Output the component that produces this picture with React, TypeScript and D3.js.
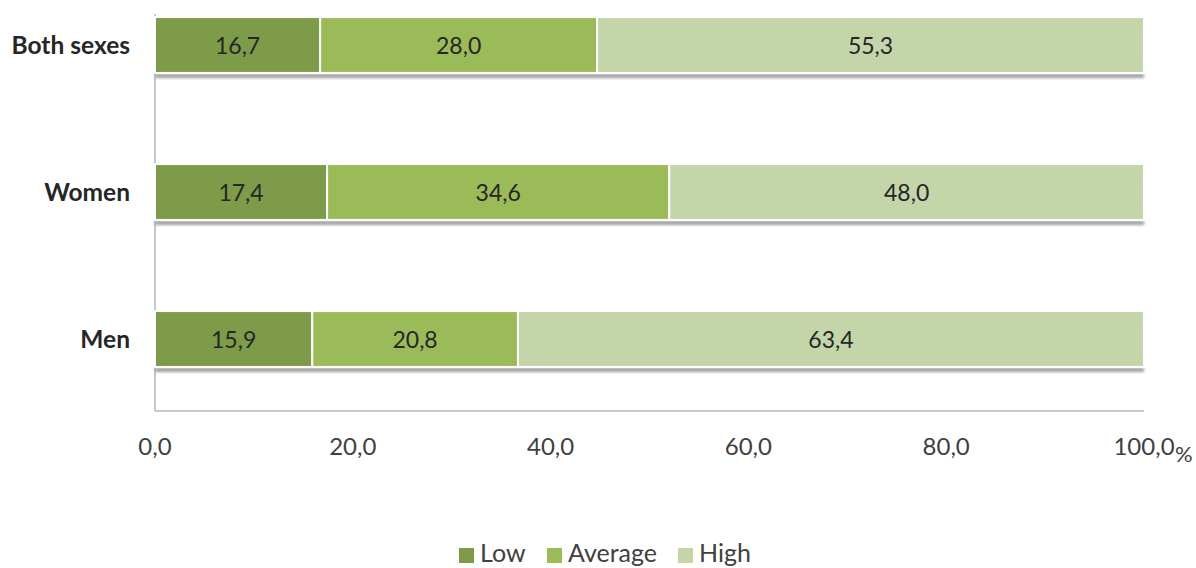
import React from "react";
import * as d3 from "d3";

const categories = ["Both sexes", "Women", "Men"];
const seriesNames = ["Low", "Average", "High"];
const low = [16.7, 17.4, 15.9];
const average = [28.0, 34.6, 20.8];
const high = [55.3, 48.0, 63.4];
const xTicks = [0, 20, 40, 60, 80, 100];
const colors = ["#7d9b48", "#9bbb59", "#c5d5aa"];

const W = 1196;
const H = 568;
const fmt = (v: number) => v.toFixed(1).replace(".", ",");

export default function App() {
  const x = d3.scaleLinear().domain([0, 100]).range([155, 1144]);
  const y = d3
    .scaleBand<string>()
    .domain(categories)
    .range([-28.5, 412.5])
    .paddingInner(0.62)
    .paddingOuter(0.31);
  const rows = categories.map((c, i) => ({ c, vals: [low[i], average[i], high[i]] }));
  const font = "Lato, 'Open Sans', sans-serif";
  const legendX = [459, 547, 678];

  return (
    <svg width={W} height={H} style={{ position: "absolute", left: 0, top: 0 }}>
      <defs>
        <filter id="sh" x="-5%" y="-50%" width="110%" height="200%">
          <feGaussianBlur stdDeviation="1.5" />
        </filter>
      </defs>
      {/* axes */}
      <line x1={155} x2={155} y1={14} y2={411} stroke="#c8c8c8" strokeWidth={2} />
      <line x1={155} x2={1144} y1={411} y2={411} stroke="#c8c8c8" strokeWidth={2} />
      {rows.map((r) => {
        const y0 = y(r.c)!;
        const bh = y.bandwidth();
        let acc = 0;
        return (
          <g key={r.c}>
            <rect x={x(0)} y={y0 + bh + 1} width={x(100) - x(0)} height={4} fill="#9a9a9a" filter="url(#sh)" />
            {r.vals.map((v, j) => {
              const s = acc;
              acc += v;
              const x0 = x(s);
              const x1 = x(Math.min(acc, 100));
              return (
                <g key={j}>
                  <rect x={x0} y={y0} width={x1 - x0} height={bh} fill={colors[j]} stroke="#ffffff" strokeWidth={2} />
                  <text x={(x0 + x1) / 2} y={y0 + bh / 2 + 9} textAnchor="middle" fontFamily={font} fontSize={23} fill="#262626">
                    {fmt(v)}
                  </text>
                </g>
              );
            })}
            <text x={130} y={y0 + bh / 2 + 9} textAnchor="end" fontFamily={font} fontWeight="bold" fontSize={24.5} fill="#262626">
              {r.c}
            </text>
          </g>
        );
      })}
      {xTicks.map((t) => (
        <text key={t} x={x(t)} y={455} textAnchor="middle" fontFamily={font} fontSize={24} fill="#404040">
          {fmt(t)}
        </text>
      ))}
      <text x={1175} y={462} fontFamily={font} fontSize={22} fill="#404040">%</text>
      {seriesNames.map((n, i) => (
        <g key={n}>
          <rect x={legendX[i]} y={548} width={15} height={15} fill={colors[i]} />
          <text x={legendX[i] + 21} y={562} fontFamily={font} fontSize={25} fill="#404040">
            {n}
          </text>
        </g>
      ))}
    </svg>
  );
}
